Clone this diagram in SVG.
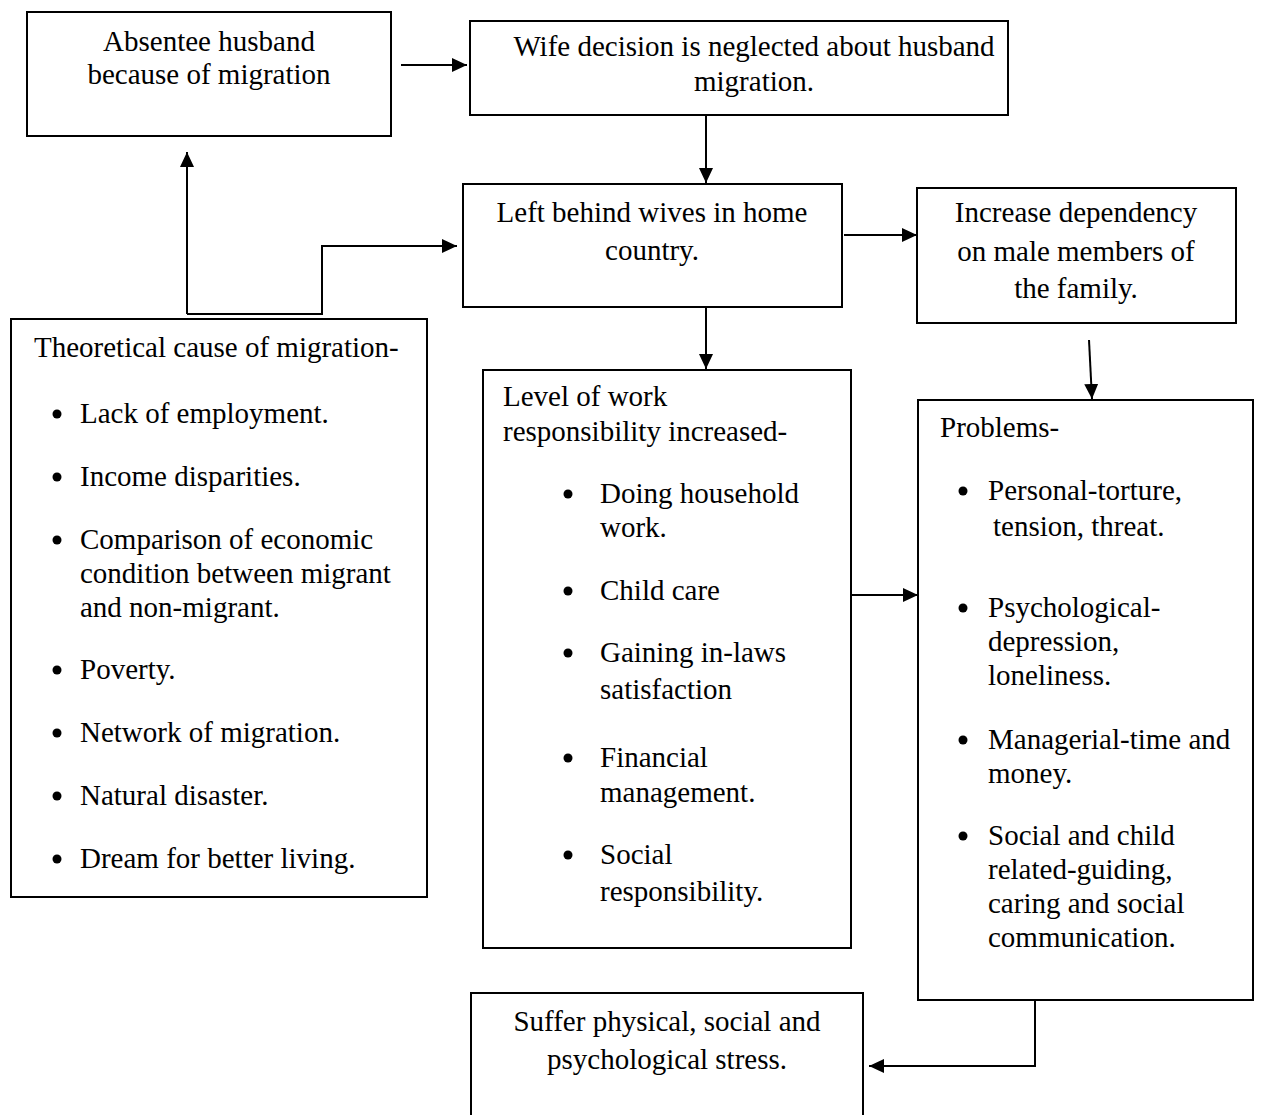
<svg xmlns="http://www.w3.org/2000/svg" width="1262" height="1115" viewBox="0 0 1262 1115">
<style>
.box{fill:#fff;stroke:#000;stroke-width:2}
text{font-family:"Liberation Serif","Times New Roman",serif;font-size:29px;fill:#000}
.c{text-anchor:middle}
.conn{fill:none;stroke:#000;stroke-width:2}
.dot{fill:#000}
</style>
<defs>
<marker id="ah" markerUnits="userSpaceOnUse" markerWidth="16" markerHeight="14" refX="15" refY="7" orient="auto">
<path d="M0,0 L15,7 L0,14 z" fill="#000"/>
</marker>
</defs>
<rect width="1262" height="1115" fill="#fff"/>

<g id="absentee">
<rect class="box" x="27" y="12" width="364" height="124"/>
<text class="c" x="209" y="51">Absentee husband</text>
<text class="c" x="209" y="84">because of migration</text>
</g>

<g id="wife">
<rect class="box" x="470" y="21" width="538" height="94"/>
<text class="c" x="754" y="56">Wife decision is neglected about husband</text>
<text class="c" x="754" y="91">migration.</text>
</g>

<g id="leftbehind">
<rect class="box" x="463" y="184" width="379" height="123"/>
<text class="c" x="652" y="222">Left behind wives in home</text>
<text class="c" x="652" y="260">country.</text>
</g>

<g id="increase">
<rect class="box" x="917" y="188" width="319" height="135"/>
<text class="c" x="1076" y="222">Increase dependency</text>
<text class="c" x="1076" y="261">on male members of</text>
<text class="c" x="1076" y="298">the family.</text>
</g>

<g id="theoretical">
<rect class="box" x="11" y="319" width="416" height="578"/>
<text x="34" y="357">Theoretical cause of migration-</text>
<circle class="dot" cx="57" cy="414" r="4.5"/>
<text x="80" y="423">Lack of employment.</text>
<circle class="dot" cx="57" cy="477" r="4.5"/>
<text x="80" y="486">Income disparities.</text>
<circle class="dot" cx="57" cy="540" r="4.5"/>
<text x="80" y="549">Comparison of economic</text>
<text x="80" y="583">condition between migrant</text>
<text x="80" y="617">and non-migrant.</text>
<circle class="dot" cx="57" cy="670" r="4.5"/>
<text x="80" y="679">Poverty.</text>
<circle class="dot" cx="57" cy="733" r="4.5"/>
<text x="80" y="742">Network of migration.</text>
<circle class="dot" cx="57" cy="796" r="4.5"/>
<text x="80" y="805">Natural disaster.</text>
<circle class="dot" cx="57" cy="859" r="4.5"/>
<text x="80" y="868">Dream for better living.</text>
</g>

<g id="work">
<rect class="box" x="483" y="370" width="368" height="578"/>
<text x="503" y="406">Level of work</text>
<text x="503" y="441">responsibility increased-</text>
<circle class="dot" cx="568" cy="494" r="4.5"/>
<text x="600" y="503">Doing household</text>
<text x="600" y="537">work.</text>
<circle class="dot" cx="568" cy="591" r="4.5"/>
<text x="600" y="600">Child care</text>
<circle class="dot" cx="568" cy="653" r="4.5"/>
<text x="600" y="662">Gaining in-laws</text>
<text x="600" y="699">satisfaction</text>
<circle class="dot" cx="568" cy="758" r="4.5"/>
<text x="600" y="767">Financial</text>
<text x="600" y="802">management.</text>
<circle class="dot" cx="568" cy="855" r="4.5"/>
<text x="600" y="864">Social</text>
<text x="600" y="901">responsibility.</text>
</g>

<g id="problems">
<rect class="box" x="918" y="400" width="335" height="600"/>
<text x="940" y="437">Problems-</text>
<circle class="dot" cx="963" cy="491" r="4.5"/>
<text x="988" y="500">Personal-torture,</text>
<text x="993" y="536">tension, threat.</text>
<circle class="dot" cx="963" cy="608" r="4.5"/>
<text x="988" y="617">Psychological-</text>
<text x="988" y="651">depression,</text>
<text x="988" y="685">loneliness.</text>
<circle class="dot" cx="963" cy="740" r="4.5"/>
<text x="988" y="749">Managerial-time and</text>
<text x="988" y="783">money.</text>
<circle class="dot" cx="963" cy="836" r="4.5"/>
<text x="988" y="845">Social and child</text>
<text x="988" y="879">related-guiding,</text>
<text x="988" y="913">caring and social</text>
<text x="988" y="947">communication.</text>
</g>

<g id="suffer">
<rect class="box" x="471" y="993" width="392" height="140"/>
<text class="c" x="667" y="1031">Suffer physical, social and</text>
<text class="c" x="667" y="1069">psychological stress.</text>
</g>

<g id="connectors">
<path class="conn" d="M401,65 H467" marker-end="url(#ah)"/>
<path class="conn" d="M706,115 V183" marker-end="url(#ah)"/>
<path class="conn" d="M187,314 V152" marker-end="url(#ah)"/>
<path class="conn" d="M187,314 H322 V246 H457" marker-end="url(#ah)"/>
<path class="conn" d="M844,235 H917" marker-end="url(#ah)"/>
<path class="conn" d="M706,307 V369" marker-end="url(#ah)"/>
<path class="conn" d="M1089,340 L1092,399" marker-end="url(#ah)"/>
<path class="conn" d="M851,595 H918" marker-end="url(#ah)"/>
<path class="conn" d="M1035,1000 V1066 H869" marker-end="url(#ah)"/>
</g>
</svg>
